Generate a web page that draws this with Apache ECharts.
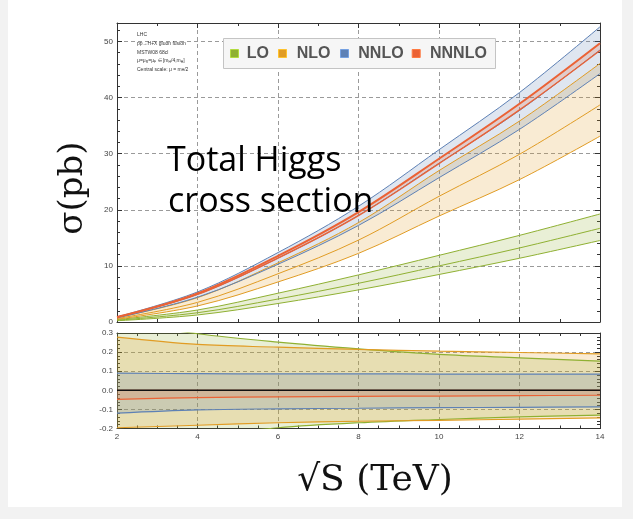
<!DOCTYPE html>
<html>
<head>
<meta charset="utf-8">
<script src="https://cdn.jsdelivr.net/npm/echarts@6/dist/echarts.min.js"></script>
<style>
html, body { margin: 0; padding: 0; background: #f2f2f2; }
#chart { width: 633px; height: 519px; }
</style>
</head>
<body>
<div id="chart"></div>
<script>
// Collider energy sqrt(S) in TeV
const energies = [2, 4, 6, 8, 10, 12, 14];
const orderNames = ['LO', 'NLO', 'NNLO', 'NNNLO'];
const orderColors = ['#8fb032', '#e19c24', '#5e81b5', '#eb6235'];

// Central cross sections (pb) at mu = mH/2
const sigmaLO    = [0.32, 1.65, 4.1, 6.9, 10.0, 13.2, 16.7];
const sigmaNLO   = [0.62, 3.5, 8.6, 14.6, 22.4, 29.9, 38.7];
const sigmaNNLO  = [0.84, 4.93, 11.4, 19.0, 28.3, 37.7, 48.5];
const sigmaNNNLO = [0.88, 5.1, 11.8, 19.6, 29.1, 38.9, 49.7];

// Relative scale variation, mu in [mH/4, mH]
const relUpLO      = [0.36, 0.296, 0.252, 0.217, 0.188, 0.170, 0.153];
const relDownLO    = [-0.30, -0.24, -0.196, -0.170, -0.153, -0.139, -0.130];
const relUpNLO     = [0.278, 0.240, 0.226, 0.214, 0.205, 0.198, 0.191];
const relDownNLO   = [-0.196, -0.183, -0.170, -0.162, -0.157, -0.151, -0.144];
const relUpNNLO    = [0.090, 0.087, 0.086, 0.086, 0.085, 0.085, 0.085];
const relDownNNLO  = [-0.120, -0.103, -0.097, -0.094, -0.091, -0.089, -0.087];
const relUpNNNLO   = [0, 0, 0, 0, 0, 0, 0];
const relDownNNNLO = [-0.047, -0.038, -0.034, -0.032, -0.030, -0.028, -0.026];

// Axis ticks
const xTicks = [2, 4, 6, 8, 10, 12, 14];
const yTicksTop = [0, 10, 20, 30, 40, 50];
const yTicksRatio = [-0.2, -0.1, 0.0, 0.1, 0.2, 0.3];

const centrals = [sigmaLO, sigmaNLO, sigmaNNLO, sigmaNNNLO];
const relUps = [relUpLO, relUpNLO, relUpNNLO, relUpNNNLO];
const relDowns = [relDownLO, relDownNLO, relDownNNLO, relDownNNNLO];

const SMOOTH = 0.35;
const AXIS_COLOR = '#333';
const LABEL_FONT = 'Liberation Sans';
const TITLE_FONT = '"DejaVu Serif", serif';

// rows are [value, energy] so that stacking acts on the value column
const rows = vals => energies.map((x, i) => [vals[i], x]);
const ENCODE = { x: 1, y: 0 };

function bandSeries(xi, yi, lower, upper, color, key) {
  const base = {
    type: 'line', xAxisIndex: xi, yAxisIndex: yi, symbol: 'none',
    smooth: SMOOTH, silent: true, encode: ENCODE,
    stack: key, stackStrategy: 'all',
    lineStyle: { width: 0, opacity: 0 }, z: 1
  };
  return [
    Object.assign({}, base, { data: rows(lower) }),
    Object.assign({}, base, {
      data: rows(upper.map((u, i) => u - lower[i])),
      areaStyle: { color: color, opacity: 0.2 }
    })
  ];
}

function curve(xi, yi, vals, color, width, z) {
  return {
    type: 'line', xAxisIndex: xi, yAxisIndex: yi, data: rows(vals), encode: ENCODE,
    symbol: 'none', smooth: SMOOTH, silent: true,
    lineStyle: { color: color, width: width }, z: z || 3
  };
}

const series = [];
// upper panel: absolute cross sections with scale bands
centrals.forEach((c, k) => {
  const up = c.map((v, i) => v * (1 + relUps[k][i]));
  const lo = c.map((v, i) => v * (1 + relDowns[k][i]));
  series.push(...bandSeries(0, 0, lo, up, orderColors[k], 'abs' + k));
});
centrals.forEach((c, k) => {
  const up = c.map((v, i) => v * (1 + relUps[k][i]));
  const lo = c.map((v, i) => v * (1 + relDowns[k][i]));
  series.push(curve(0, 0, lo, orderColors[k], k === 3 ? 1.3 : 1));
  series.push(curve(0, 0, c, orderColors[k], k === 3 ? 2 : 1));
  if (k !== 3) series.push(curve(0, 0, up, orderColors[k], 1));
});
// lower panel: relative scale variation
relUps.forEach((u, k) => {
  series.push(...bandSeries(2, 2, relDowns[k], u, orderColors[k], 'rel' + k));
});
relUps.forEach((u, k) => {
  series.push(curve(2, 2, u, orderColors[k], 1.2));
  series.push(curve(2, 2, relDowns[k], orderColors[k], 1.2));
});
series.push({
  type: 'line', xAxisIndex: 2, yAxisIndex: 2, data: [[2, 0], [14, 0]],
  symbol: 'none', silent: true, lineStyle: { color: '#111', width: 1.5 }, z: 5
});

const dashed = { show: true, lineStyle: { color: '#9a9a9a', width: 1, type: [4, 3] } };
const tick = { show: true, inside: true, length: 5, lineStyle: { color: AXIS_COLOR, width: 1 } };
const axisLine = { show: true, onZero: false, lineStyle: { color: AXIS_COLOR, width: 1 } };
const labelStyle = { fontSize: 8, color: '#444', fontFamily: LABEL_FONT, margin: 4 };

function xAxis(grid, position, labels, minorSplit, split) {
  return {
    type: 'value', gridIndex: grid, position: position,
    min: xTicks[0], max: xTicks[xTicks.length - 1], interval: 2,
    axisLine: axisLine, axisTick: tick,
    minorTick: { show: true, splitNumber: minorSplit, length: 3, lineStyle: { color: AXIS_COLOR } },
    axisLabel: labels ? Object.assign({ show: true }, labelStyle) : { show: false },
    splitLine: split ? dashed : { show: false }
  };
}

function yAxis(grid, position, min, max, interval, minorSplit, labels, split, fmt) {
  return {
    type: 'value', gridIndex: grid, position: position,
    min: min, max: max, interval: interval,
    axisLine: axisLine, axisTick: tick,
    minorTick: { show: true, splitNumber: minorSplit, length: 3, lineStyle: { color: AXIS_COLOR } },
    axisLabel: labels ? Object.assign({ show: true, showMaxLabel: max === 0.3, formatter: fmt }, labelStyle) : { show: false },
    splitLine: split ? dashed : { show: false }
  };
}

const legendX = [230, 278, 340, 411.7];
const legendTextX = [246.7, 296.7, 358.3, 430];
const legendGraphics = [{
  type: 'rect', shape: { x: 223.5, y: 38.5, width: 272, height: 30 },
  style: { fill: '#f6f6f6', stroke: '#c4c4c4', lineWidth: 1 }, z: 50
}];
orderNames.forEach((name, k) => {
  legendGraphics.push({
    type: 'rect', shape: { x: legendX[k] + 0.5, y: 49.5, width: 8, height: 8 },
    style: { fill: orderColors[k], stroke: echarts.color.lift(orderColors[k], -0.25), lineWidth: 1 }, z: 51
  });
  legendGraphics.push({
    type: 'text', x: legendTextX[k], y: 54,
    style: { text: name, fontSize: 16, fontWeight: 'bold', fontFamily: LABEL_FONT, fill: '#555',
             align: 'left', verticalAlign: 'middle', textAlign: 'left', textVerticalAlign: 'middle' }, z: 51
  });
});

const noteLines = [
  { text: 'LHC', y: 35 },
  { text: 'pp→H+X gluon fusion', y: 44 },
  { text: 'MSTW08 68cl', y: 52.3 },
  { text: '{t|μ=μ}{s|R}{t|=μ}{s|F}{t| ∈ [m}{s|H}{t|/4,m}{s|H}{t|]}', y: 61, rich: true },
  { text: '{t|Central scale: μ = m}{s|H}{t|/2}', y: 69.3, rich: true }
];
const noteGraphics = noteLines.map(l => ({
  type: 'text', x: 137, y: l.y, z: 40,
  style: Object.assign({
    text: l.text, fontSize: 5, fontFamily: LABEL_FONT, fill: '#333',
    align: 'left', verticalAlign: 'middle', textAlign: 'left', textVerticalAlign: 'middle'
  }, l.rich ? { rich: {
    t: { fontSize: 5, fontFamily: LABEL_FONT, fill: '#333' },
    s: { fontSize: 3.5, fontFamily: LABEL_FONT, fill: '#333', padding: [2, 0, 0, 0] }
  } } : {})
}));

const option = {
  animation: false,
  backgroundColor: '#f2f2f2',
  grid: [
    { left: 117, top: 23, width: 483, height: 299, show: false },
    { left: 117, top: 333, width: 483, height: 95.5, show: false }
  ],
  xAxis: [
    xAxis(0, 'bottom', false, 2, true),
    xAxis(0, 'top', false, 2, false),
    xAxis(1, 'bottom', true, 4, true),
    xAxis(1, 'top', false, 4, false)
  ],
  yAxis: [
    yAxis(0, 'left', yTicksTop[0], 53.3, 10, 5, true, true, v => String(v)),
    yAxis(0, 'right', yTicksTop[0], 53.3, 10, 5, false, false),
    yAxis(1, 'left', yTicksRatio[0], yTicksRatio[yTicksRatio.length - 1], 0.1, 5, true, true, v => v.toFixed(1)),
    yAxis(1, 'right', yTicksRatio[0], yTicksRatio[yTicksRatio.length - 1], 0.1, 5, false, false)
  ],
  series: series,
  graphic: [
    { type: 'rect', shape: { x: 8, y: 0, width: 614, height: 507 }, style: { fill: '#ffffff' }, z: -10, silent: true },
    ...noteGraphics,
    ...legendGraphics,
    { type: 'text', x: 167, y: 161, z: 60,
      style: { text: 'Total Higgs', fontSize: 34, fontFamily: 'Open Sans', fill: '#000',
               align: 'left', verticalAlign: 'middle', textAlign: 'left', textVerticalAlign: 'middle' } },
    { type: 'text', x: 168, y: 202, z: 60,
      style: { text: 'cross section', fontSize: 34, fontFamily: 'Open Sans', fill: '#000',
               align: 'left', verticalAlign: 'middle', textAlign: 'left', textVerticalAlign: 'middle' } },
    { type: 'text', x: 73, y: 188, rotation: Math.PI / 2, z: 60,
      style: { text: 'σ(pb)', fontSize: 34, fontFamily: TITLE_FONT, fill: '#111',
               align: 'center', verticalAlign: 'middle', textAlign: 'center', textVerticalAlign: 'middle' } },
    { type: 'text', x: 375, y: 481, z: 60,
      style: { text: '√S (TeV)', fontSize: 36, fontFamily: TITLE_FONT, fill: '#111',
               align: 'center', verticalAlign: 'middle', textAlign: 'center', textVerticalAlign: 'middle' } }
  ]
};

const chart = echarts.init(document.getElementById('chart'), null, { renderer: 'canvas' });
chart.setOption(option);
</script>
</body>
</html>
